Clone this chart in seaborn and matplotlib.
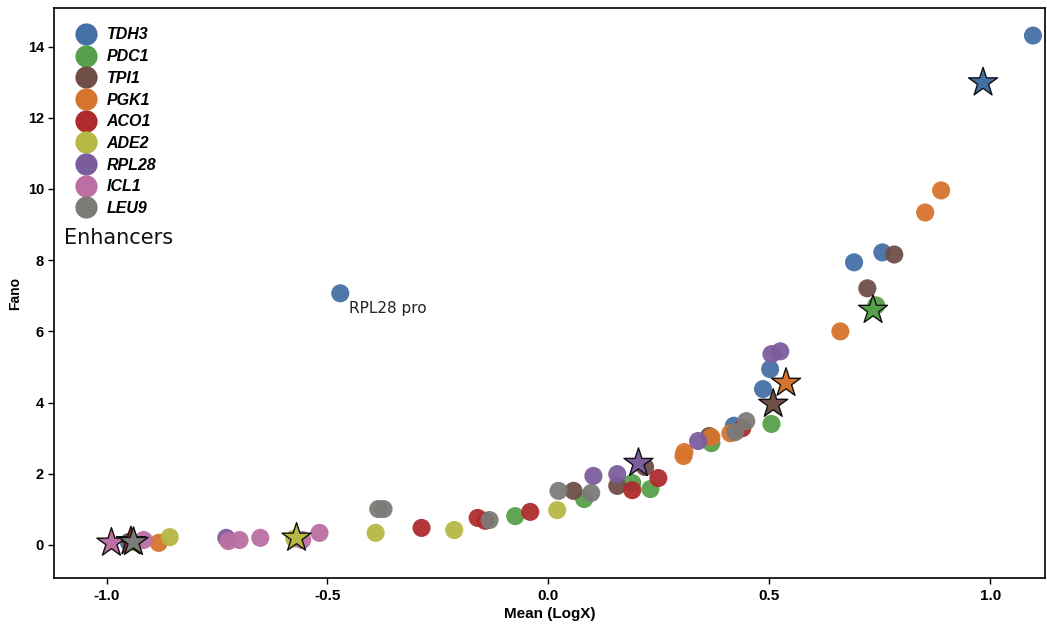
import numpy as np
import pandas as pd
import matplotlib
matplotlib.use("Agg")
import matplotlib.pyplot as plt
import seaborn as sns
from matplotlib.lines import Line2D
from matplotlib import font_manager

genes = ["TDH3", "PDC1", "TPI1", "PGK1", "ACO1", "ADE2", "RPL28", "ICL1", "LEU9"]
colors = ["#4570a6", "#57a04b", "#6f4f46", "#d6732d", "#ae2c2e", "#b7b744",
          "#7b5d9d", "#bb6fa2", "#7b7b78"]

# circles (promoter/enhancer variants)
tdh3_x = [1.097, 0.756, 0.692, -0.471, 0.502, 0.486, 0.420, -0.950]
tdh3_y = [14.31, 8.22, 7.94, 7.07, 4.94, 4.38, 3.35, 0.08]
pdc1_x = [0.742, 0.505, 0.369, 0.231, 0.190, 0.081, -0.075]
pdc1_y = [6.73, 3.40, 2.86, 1.57, 1.74, 1.29, 0.81]
tpi1_x = [0.783, 0.722, 0.364, 0.219, 0.156, 0.057, -0.945]
tpi1_y = [8.16, 7.21, 3.06, 2.19, 1.66, 1.52, 0.10]
pgk1_x = [0.889, 0.853, 0.661, 0.369, 0.308, 0.306, 0.412, -0.882]
pgk1_y = [9.96, 9.34, 6.00, 3.03, 2.61, 2.50, 3.14, 0.06]
aco1_x = [0.439, 0.249, 0.190, -0.041, -0.160, -0.143, -0.287]
aco1_y = [3.28, 1.88, 1.54, 0.93, 0.76, 0.68, 0.48]
ade2_x = [-0.857, -0.391, -0.213, 0.020, -0.575, -0.940]
ade2_y = [0.22, 0.34, 0.42, 0.98, 0.18, 0.08]
rpl28_x = [0.525, 0.505, 0.156, 0.102, 0.339, -0.729]
rpl28_y = [5.44, 5.36, 1.99, 1.94, 2.92, 0.20]
icl1_x = [-0.916, -0.724, -0.699, -0.652, -0.557, -0.518]
icl1_y = [0.14, 0.11, 0.14, 0.20, 0.14, 0.34]
leu9_x = [-0.385, -0.373, -0.133, 0.023, 0.097, 0.423, 0.448]
leu9_y = [1.01, 1.01, 0.70, 1.52, 1.46, 3.17, 3.48]

# stars (native promoters)
star_x = [0.984, 0.735, 0.509, 0.538, -0.945, -0.570, 0.204, -0.989, -0.939]
star_y = [12.99, 6.60, 3.96, 4.55, 0.10, 0.20, 2.30, 0.06, 0.08]

circle_x = [tdh3_x, pdc1_x, tpi1_x, pgk1_x, aco1_x, ade2_x, rpl28_x, icl1_x, leu9_x]
circle_y = [tdh3_y, pdc1_y, tpi1_y, pgk1_y, aco1_y, ade2_y, rpl28_y, icl1_y, leu9_y]

rows = []
for g, xs, ys in zip(genes, circle_x, circle_y):
    for x, y in zip(xs, ys):
        rows.append((g, x, y))
circles = pd.DataFrame(rows, columns=["gene", "x", "y"])
stars = pd.DataFrame({"gene": genes, "x": star_x, "y": star_y})
palette = dict(zip(genes, colors))

sns.set_style("white")
plt.rcParams["text.color"] = "black"
plt.rcParams["axes.labelcolor"] = "black"
plt.rcParams["xtick.color"] = "black"
plt.rcParams["ytick.color"] = "black"

installed = {f.name for f in font_manager.fontManager.ttflist}
narrow = "Liberation Sans Narrow" if "Liberation Sans Narrow" in installed else "Liberation Sans"

fig = plt.figure(figsize=(10.47, 6.27), dpi=100)
ax = fig.add_axes([0.052, 0.078, 0.946, 0.909])

sns.scatterplot(data=circles, x="x", y="y", hue="gene", palette=palette,
                s=170, edgecolor="none", alpha=0.95, legend=False, ax=ax, zorder=2)
sns.scatterplot(data=stars, x="x", y="y", hue="gene", palette=palette,
                marker="*", s=480, edgecolor="#111111", linewidth=1.0,
                legend=False, ax=ax, zorder=3)

ax.set_xlim(-1.118, 1.124)
ax.set_ylim(-0.93, 15.08)
ax.set_xticks([-1.0, -0.5, 0.0, 0.5, 1.0])
ax.set_xticklabels(["-1.0", "-0.5", "0.0", "0.5", "1.0"])
ax.set_yticks([0, 2, 4, 6, 8, 10, 12, 14])

for lab in ax.get_xticklabels():
    lab.set_fontfamily([narrow, "DejaVu Sans"])
    lab.set_fontweight("bold")
    lab.set_fontsize(11)
for lab in ax.get_yticklabels():
    lab.set_fontfamily(["Liberation Sans", "DejaVu Sans"])
    lab.set_fontweight("bold")
    lab.set_fontsize(10.5)
ax.set_xlabel("Mean (LogX)", fontsize=11, fontweight="bold",
              family=[narrow, "DejaVu Sans"], labelpad=3)
ax.set_ylabel("Fano", fontsize=10, fontweight="bold",
              family=["Liberation Sans", "DejaVu Sans"])
ax.tick_params(axis="both", direction="out", length=4, width=1, color="black",
               bottom=True, left=True)
for sp in ax.spines.values():
    sp.set_color("black")
    sp.set_linewidth(1.2)

ax.annotate("RPL28 pro", (-0.471, 7.07), xytext=(6, -14), textcoords="offset points",
            fontsize=11, family="DejaVu Sans", color="#222222")

handles = [Line2D([0], [0], marker="o", linestyle="none", markersize=16,
                  markerfacecolor=c, markeredgecolor="none") for c in colors]
leg = ax.legend(handles, genes, loc="upper left", frameon=False,
                bbox_to_anchor=(0.006, 0.983), borderaxespad=0.3,
                labelspacing=0.42, handletextpad=0.3, borderpad=0.3,
                prop=dict(family=["Liberation Sans", "DejaVu Sans"], weight="bold",
                          style="italic", size=11.5))
for t in leg.get_texts():
    t.set_color("black")
ax.text(0.01, 0.596, "Enhancers", transform=ax.transAxes, fontsize=15,
        family="DejaVu Sans", color="#111111", va="center")

fig.savefig("out.png", dpi=100)
